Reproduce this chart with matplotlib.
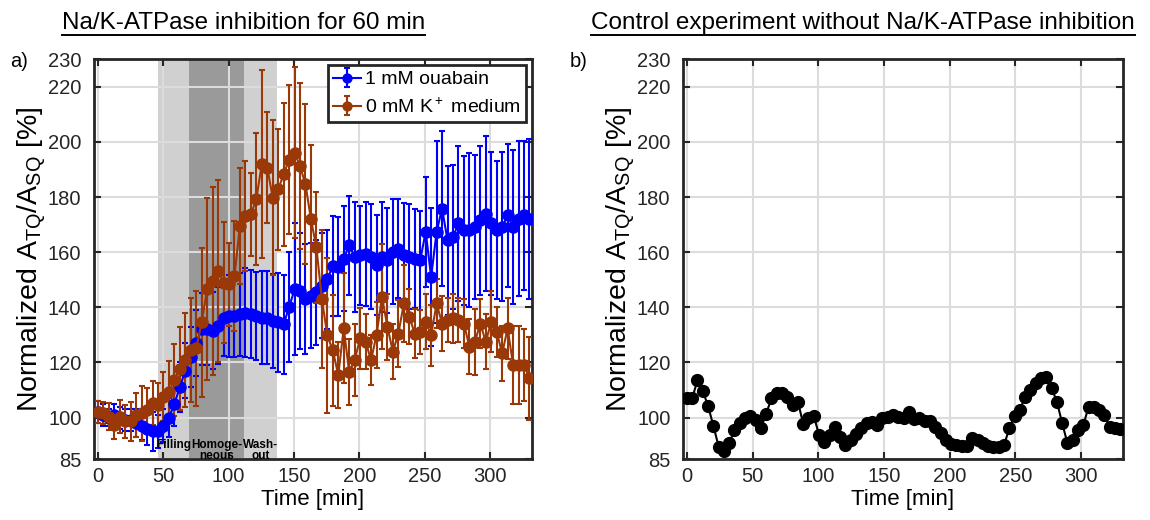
import matplotlib
matplotlib.use('Agg')
import matplotlib.pyplot as plt
import numpy as np
from matplotlib.lines import Line2D

plt.rcParams['font.family'] = ['Liberation Sans', 'DejaVu Sans']
plt.rcParams['mathtext.fontset'] = 'custom'
plt.rcParams['mathtext.rm'] = 'Liberation Sans'
plt.rcParams['mathtext.it'] = 'Liberation Sans:italic'
plt.rcParams['mathtext.bf'] = 'Liberation Sans:bold'

# --- data ---
ouabain_mean = [102, 101, 100, 101, 100, 99, 99, 98, 97, 96, 95, 95, 97, 100, 105, 111, 117, 122, 127,
                132.1, 132.1, 131.5, 133.3, 136.3, 136.9, 136.9, 137.5, 138.1, 137.5, 136.9, 136.3, 136.3,
                135.1, 134.5, 133.9, 140, 146.6, 146, 143, 144.2, 145.4, 147.8, 150.2, 155,
                154.7, 157.7, 162.5, 158.3, 158.9, 159.3, 158.3, 155.3, 158.3, 157.1, 160.1, 161.3,
                158.9, 158.3, 157.7, 157.1, 167.4, 151, 167.4, 175.8, 164.3, 165.5, 170.4, 168, 168,
                169.2, 171.6, 174, 170.4, 168, 169.2, 173.4, 169.2, 172.2, 173.4, 172.2]
ouabain_err = [4, 4, 3, 4, 4, 4, 4, 5, 5, 6, 7, 6, 6, 7, 8, 9, 10, 11, 12,
               13, 13, 14, 14, 14, 15, 15, 15, 16, 16, 16, 17, 17, 17, 18, 18, 20, 24, 21, 20, 19, 19, 19, 18, 18,
               18, 19, 18, 20, 18, 19, 19, 18, 20, 19, 19, 18, 19, 19, 18, 18, 20, 25, 33, 28, 27, 26, 28, 27,
               28, 26, 27, 28, 26, 25, 27, 26, 28, 28, 27, 29]

kfree_mean = [102.1, 101.6, 100.4, 97.3, 100.4, 98.6, 98.6, 101, 101.6, 102.8, 105.2, 104.6, 107.6, 109.4,
              113.6, 117.8, 120.9, 124.5, 125.1,
              134.5, 146.6, 149.6, 153.2, 149, 148.4, 151.4, 169.5, 173.1, 173.7, 179.2, 191.9, 190.7,
              179.8, 182.8, 188.2, 193.6, 196, 191.2, 184.6, 171.9, 161.7, 143, 129.8, 124.4,
              115.4, 132.4, 116.6, 120.9, 128.7, 127.5, 120.9, 129.9, 143.8, 132.9, 123.9, 130.5, 141.4,
              136.6, 130.5, 131.1, 134.8, 129.9, 141.4, 134.1, 135.4, 136, 135.4, 134.1, 125.7, 127.5,
              134.1, 127.5, 134.8, 131.1, 123.3, 132.4, 119.1, 119.1, 119.1, 114.3]
kfree_err = [4, 4, 5, 5, 6, 6, 7, 8, 10, 8, 8, 8, 9, 11, 13, 15, 17, 19, 21,
             27, 33, 34, 33, 22, 15, 20, 21, 20, 15, 24, 34, 20, 28, 22, 26, 27, 31, 30, 29, 27, 20, 25, 28, 20,
             12, 20, 12, 13, 11, 10, 9, 12, 19, 12, 10, 12, 14, 10, 9, 8, 10, 11, 9, 10, 8, 9, 8, 9, 10,
             12, 9, 10, 11, 9, 10, 11, 14, 14, 13, 15]

control_mean = [107, 107, 113.6, 109.7, 104.2, 97.1, 89.5, 88, 90.7, 95.5, 97.9, 99.7, 100.6, 99.1, 96.1,
                101.5, 107, 108.8, 108.8, 107.6, 104.6, 105.8, 97.7, 99.7, 100.6, 93.7, 91.3, 93.7, 96.7,
                93.1, 90.1, 91.9, 94.1, 96.1, 98.2, 98.5, 97.3, 99.7, 100.3, 100.9,
                100.1, 99.7, 102.1, 99.4, 99.7, 98.9, 98.9, 96.7, 94.3, 91.9, 90.4, 90.1, 89.7, 89.7, 92.5,
                91.9, 90.7, 89.8, 89.2, 89.5, 90.1, 96.1, 100.6, 102.8, 107.6, 110, 112.4, 114.2, 114.8,
                110.6, 105.8, 97.9, 90.7, 91.9, 95.5, 97.3, 104, 104, 102.8, 100.9, 96.7, 96.1, 95.8]

time_a = np.linspace(0, 330, len(ouabain_mean))
time_b = np.linspace(0, 330, len(control_mean))

phases = ['Filling', 'Homoge-\nneous', 'Wash-\nout']
phase_start = [46, 70, 112]
phase_end = [70, 112, 137]
phase_color = ['#d0d0d0', '#9a9a9a', '#d0d0d0']

xticks = [0, 50, 100, 150, 200, 250, 300]
yticks = [85, 100, 120, 140, 160, 180, 200, 220, 230]

blue = '#0000ff'
rust = '#9a3808'
dark = '#262626'

fig = plt.figure(figsize=(11.5, 5.2), dpi=100)
ax1 = fig.add_axes([0.0817, 0.1173, 0.381, 0.769])
ax2 = fig.add_axes([0.5939, 0.1173, 0.3826, 0.769])


def style(ax):
    ax.set_xlim(-3, 332)
    ax.set_ylim(85, 230)
    ax.set_xticks(xticks)
    ax.set_yticks(yticks)
    ax.tick_params(direction='in', length=5, width=1.5, top=True, right=True,
                   labelsize=14.5, colors=dark)
    ax.tick_params(axis='y', pad=9)
    ax.tick_params(axis='x', pad=6)
    ax.grid(True, color='#dcdcdc', lw=1.5)
    ax.set_axisbelow('line')
    for s in ax.spines.values():
        s.set_linewidth(2)
        s.set_color(dark)
    ax.set_xlabel('Time [min]', fontsize=16, labelpad=2)
    ax.set_ylabel(r'Normalized $\mathrm{A_{TQ}/A_{SQ}}$ [%]', fontsize=20.5, labelpad=0)


# panel a
for name, a, b, c in zip(phases, phase_start, phase_end, phase_color):
    ax1.axvspan(a, b, color=c, lw=0, zorder=1)
    ax1.text((a + b) / 2, 92.3, name, ha='center', va='top', fontsize=8.5, fontweight='bold',
             linespacing=0.9, zorder=5)

ax1.errorbar(time_a, ouabain_mean, yerr=ouabain_err, fmt='-o', color=blue, ms=8, lw=1.5,
             elinewidth=1.5, capsize=2.5, capthick=1.5, label='1 mM ouabain', zorder=3)
ax1.errorbar(time_a, kfree_mean, yerr=kfree_err, fmt='-o', color=rust, ms=8, lw=1.5,
             elinewidth=1.5, capsize=2.5, capthick=1.5, label='0 mM K$^+$ medium', zorder=3)
style(ax1)
leg = ax1.legend(loc='upper right', fontsize=14, fancybox=False, framealpha=1, edgecolor=dark,
                 borderpad=0.3, handlelength=1.4, handletextpad=0.2, borderaxespad=0.3,
                 labelspacing=0.45, markerscale=0.8)
leg.get_frame().set_linewidth(2)

# panel b
ax2.plot(time_b, control_mean, '-o', color='black', ms=8.5, lw=1.5, zorder=3)
style(ax2)

fig.text(0.009, 0.872, 'a)', fontsize=14.5)
fig.text(0.495, 0.872, 'b)', fontsize=14.5)


def underlined(x, y, s):
    t = fig.text(x, y, s, ha='center', va='baseline', fontsize=17.5)
    fig.canvas.draw()
    bb = t.get_window_extent().transformed(fig.transFigure.inverted())
    fig.add_artist(Line2D([bb.x0, bb.x1], [bb.y0 - 0.002] * 2, color='black', lw=1.4,
                          transform=fig.transFigure))


underlined(0.2117, 0.944, 'Na/K-ATPase inhibition for 60 min')
underlined(0.7504, 0.944, 'Control experiment without Na/K-ATPase inhibition')

fig.savefig('out.png', dpi=100)
